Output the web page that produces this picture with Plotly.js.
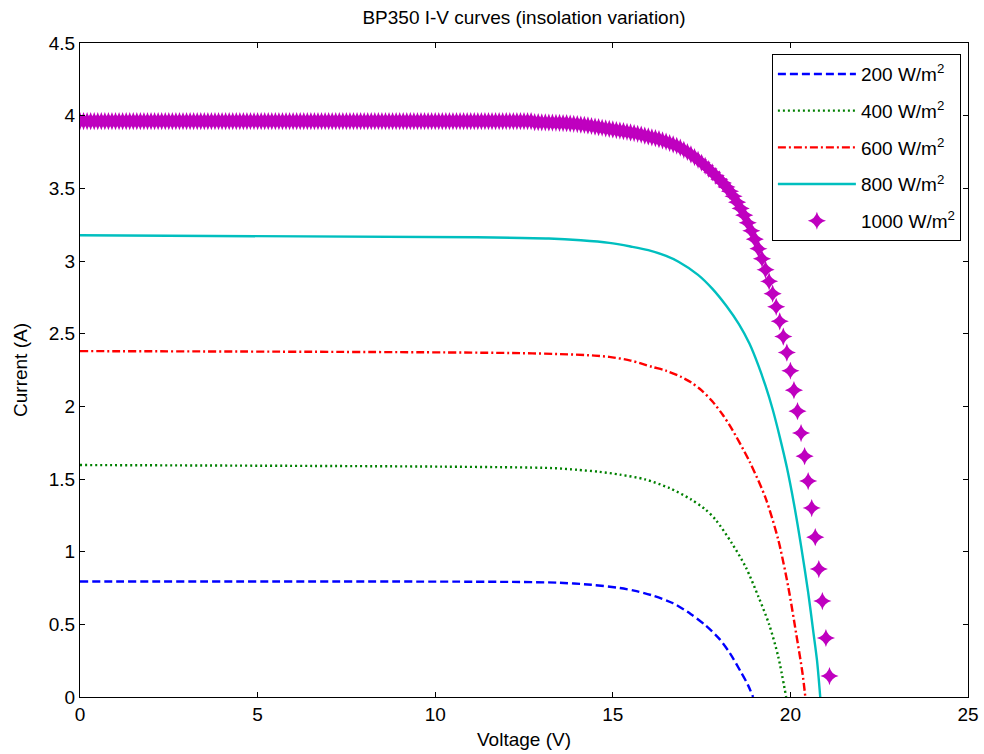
<!DOCTYPE html>
<html>
<head>
<meta charset="utf-8">
<script src="https://cdn.plot.ly/plotly-3.0.1.min.js"></script>
<style>html,body{margin:0;padding:0;background:#fff;}#chart{width:984px;height:754px;}</style>
</head>
<body>
<div id="chart"></div>
<script>
// Series names
const seriesNames = ["200 W/m<sup>2</sup>", "400 W/m<sup>2</sup>", "600 W/m<sup>2</sup>", "800 W/m<sup>2</sup>", "1000 W/m<sup>2</sup>"];

// 200 W/m2
const v200 = [0, 12.1, 13.5, 14.4, 15.2, 15.6, 16.1, 16.7, 17.2, 17.6, 18.0, 18.3, 18.6, 18.8, 18.95];
const i200 = [0.795, 0.792, 0.786, 0.772, 0.750, 0.732, 0.700, 0.645, 0.570, 0.495, 0.400, 0.300, 0.175, 0.085, 0];

// 400 W/m2
const v400 = [0, 10.2, 13.3, 14.0, 14.6, 15.2, 15.9, 16.6, 17.2, 17.6, 17.9, 18.35, 18.75, 19.1, 19.4, 19.66, 19.88];
const i400 = [1.596, 1.585, 1.575, 1.563, 1.550, 1.530, 1.498, 1.437, 1.360, 1.292, 1.218, 1.059, 0.890, 0.690, 0.500, 0.275, 0];

// 600 W/m2
const v600 = [0, 12.4, 14.3, 14.9, 15.5, 16.1, 16.5, 16.9, 17.2, 17.5, 17.8, 18.1, 18.35, 18.85, 19.3, 19.66, 19.94, 20.16, 20.34, 20.42];
const i600 = [2.380, 2.366, 2.352, 2.340, 2.315, 2.272, 2.245, 2.205, 2.165, 2.110, 2.035, 1.940, 1.845, 1.620, 1.370, 1.080, 0.757, 0.440, 0.165, 0];

// 800 W/m2
const v800 = [0, 11.15, 13.2, 14.1, 14.9, 15.5, 16.0, 16.5, 16.85, 17.4, 17.8, 18.2, 18.55, 18.85, 19.1, 19.3, 19.5, 19.7, 19.9, 20.1, 20.3, 20.5, 20.65, 20.75, 20.84];
const i800 = [3.177, 3.163, 3.155, 3.143, 3.125, 3.100, 3.075, 3.035, 2.995, 2.905, 2.810, 2.690, 2.565, 2.430, 2.280, 2.140, 1.980, 1.790, 1.580, 1.330, 1.040, 0.720, 0.440, 0.250, 0];

// 1000 W/m2 (one marker every 0.1 V)
const v1000 = [
 0.0, 0.1, 0.2, 0.3, 0.4, 0.5, 0.6, 0.7, 0.8, 0.9,
 1.0, 1.1, 1.2, 1.3, 1.4, 1.5, 1.6, 1.7, 1.8, 1.9,
 2.0, 2.1, 2.2, 2.3, 2.4, 2.5, 2.6, 2.7, 2.8, 2.9,
 3.0, 3.1, 3.2, 3.3, 3.4, 3.5, 3.6, 3.7, 3.8, 3.9,
 4.0, 4.1, 4.2, 4.3, 4.4, 4.5, 4.6, 4.7, 4.8, 4.9,
 5.0, 5.1, 5.2, 5.3, 5.4, 5.5, 5.6, 5.7, 5.8, 5.9,
 6.0, 6.1, 6.2, 6.3, 6.4, 6.5, 6.6, 6.7, 6.8, 6.9,
 7.0, 7.1, 7.2, 7.3, 7.4, 7.5, 7.6, 7.7, 7.8, 7.9,
 8.0, 8.1, 8.2, 8.3, 8.4, 8.5, 8.6, 8.7, 8.8, 8.9,
 9.0, 9.1, 9.2, 9.3, 9.4, 9.5, 9.6, 9.7, 9.8, 9.9,
 10.0, 10.1, 10.2, 10.3, 10.4, 10.5, 10.6, 10.7, 10.8, 10.9,
 11.0, 11.1, 11.2, 11.3, 11.4, 11.5, 11.6, 11.7, 11.8, 11.9,
 12.0, 12.1, 12.2, 12.3, 12.4, 12.5, 12.6, 12.7, 12.8, 12.9,
 13.0, 13.1, 13.2, 13.3, 13.4, 13.5, 13.6, 13.7, 13.8, 13.9,
 14.0, 14.1, 14.2, 14.3, 14.4, 14.5, 14.6, 14.7, 14.8, 14.9,
 15.0, 15.1, 15.2, 15.3, 15.4, 15.5, 15.6, 15.7, 15.8, 15.9,
 16.0, 16.1, 16.2, 16.3, 16.4, 16.5, 16.6, 16.7, 16.8, 16.9,
 17.0, 17.1, 17.2, 17.3, 17.4, 17.5, 17.6, 17.7, 17.8, 17.9,
 18.0, 18.1, 18.2, 18.3, 18.4, 18.5, 18.6, 18.7, 18.8, 18.9,
 19.0, 19.1, 19.2, 19.3, 19.4, 19.5, 19.6, 19.7, 19.8, 19.9,
 20.0, 20.1, 20.2, 20.3, 20.4, 20.5, 20.6, 20.7, 20.8, 20.9,
 21.0, 21.1
];
const i1000 = [
 3.962, 3.962, 3.962, 3.962, 3.962, 3.962, 3.962, 3.962, 3.962, 3.962,
 3.962, 3.962, 3.962, 3.962, 3.962, 3.962, 3.962, 3.962, 3.962, 3.962,
 3.962, 3.962, 3.962, 3.962, 3.962, 3.962, 3.962, 3.962, 3.962, 3.962,
 3.962, 3.962, 3.962, 3.962, 3.962, 3.962, 3.962, 3.962, 3.962, 3.962,
 3.962, 3.962, 3.962, 3.962, 3.962, 3.962, 3.962, 3.962, 3.962, 3.962,
 3.962, 3.962, 3.962, 3.962, 3.962, 3.962, 3.962, 3.962, 3.962, 3.962,
 3.962, 3.962, 3.962, 3.962, 3.962, 3.962, 3.962, 3.962, 3.962, 3.962,
 3.962, 3.962, 3.962, 3.962, 3.962, 3.962, 3.962, 3.962, 3.962, 3.962,
 3.962, 3.962, 3.962, 3.962, 3.962, 3.962, 3.962, 3.962, 3.962, 3.962,
 3.962, 3.962, 3.962, 3.962, 3.962, 3.962, 3.962, 3.962, 3.962, 3.962,
 3.962, 3.962, 3.962, 3.962, 3.962, 3.962, 3.962, 3.962, 3.962, 3.962,
 3.962, 3.962, 3.962, 3.962, 3.962, 3.962, 3.962, 3.962, 3.962, 3.962,
 3.962, 3.962, 3.962, 3.962, 3.962, 3.962, 3.962, 3.962, 3.955, 3.955,
 3.954, 3.954, 3.953, 3.952, 3.951, 3.950, 3.949, 3.948, 3.946, 3.944,
 3.942, 3.939, 3.936, 3.933, 3.929, 3.925, 3.921, 3.917, 3.913, 3.909,
 3.905, 3.901, 3.897, 3.893, 3.889, 3.885, 3.880, 3.875, 3.869, 3.863,
 3.857, 3.851, 3.845, 3.838, 3.830, 3.821, 3.812, 3.803, 3.793, 3.780,
 3.765, 3.750, 3.733, 3.715, 3.696, 3.676, 3.655, 3.633, 3.610, 3.586,
 3.562, 3.537, 3.510, 3.480, 3.445, 3.405, 3.362, 3.315, 3.263, 3.208,
 3.150, 3.085, 3.015, 2.940, 2.860, 2.775, 2.685, 2.585, 2.480, 2.370,
 2.245, 2.111, 1.967, 1.816, 1.657, 1.486, 1.300, 1.100, 0.880, 0.660,
 0.406, 0.144
];

// Axis ticks
const xTicks = [0, 5, 10, 15, 20, 25];
const yTicks = [0, 0.5, 1, 1.5, 2, 2.5, 3, 3.5, 4, 4.5];

const FONT = '"Liberation Sans", Arial, Helvetica, sans-serif';
const FS = 19;

const traces = [
  {x: v200, y: i200, name: seriesNames[0], mode: 'lines', legendgroup: 'a',
   line: {color: '#0000FF', width: 2.4, dash: '8px,4px', shape: 'spline', smoothing: 0.8}},
  {x: v400, y: i400, name: seriesNames[1], mode: 'lines', legendgroup: 'b',
   line: {color: '#008000', width: 2.4, dash: '2px,3px', shape: 'spline', smoothing: 0.8}},
  {x: v600, y: i600, name: seriesNames[2], mode: 'lines', legendgroup: 'c',
   line: {color: '#FF0000', width: 2.4, dash: '8px,3px,2px,3px', shape: 'spline', smoothing: 0.8}},
  {x: v800, y: i800, name: seriesNames[3], mode: 'lines', legendgroup: 'd',
   line: {color: '#00BFBF', width: 2.4, shape: 'spline', smoothing: 0.8}},
  {x: v1000, y: i1000, name: seriesNames[4], mode: 'markers', legendgroup: 'e',
   marker: {color: '#BF00BF', size: 13, symbol: 'star-diamond', line: {width: 0}}}
];

const axisCommon = {
  showgrid: false, zeroline: false, showline: true, linecolor: '#000', linewidth: 1,
  mirror: 'ticks', ticks: 'inside', ticklen: 5, tickcolor: '#000', tickwidth: 1,
  tickfont: {family: FONT, size: FS, color: '#000'}, automargin: false
};

const layout = {
  width: 984, height: 754,
  margin: {l: 80, r: 16, t: 43, b: 57},
  paper_bgcolor: '#fff', plot_bgcolor: '#fff',
  font: {family: FONT, size: FS, color: '#000'},
  title: {text: 'BP350 I-V curves (insolation variation)', font: {family: FONT, size: FS, color: '#000'},
          x: 0.5, xref: 'paper', xanchor: 'center', y: 1 - 17/754, yref: 'container', yanchor: 'middle'},
  xaxis: Object.assign({}, axisCommon, {range: [0, 25], tickvals: xTicks, ticktext: xTicks.map(String),
          title: {text: 'Voltage (V)', font: {family: FONT, size: FS, color: '#000'}, standoff: 8}}),
  yaxis: Object.assign({}, axisCommon, {range: [0, 4.5], tickvals: yTicks, ticktext: yTicks.map(String),
          title: {text: 'Current (A)', font: {family: FONT, size: FS, color: '#000'}, standoff: 16}}),
  showlegend: true,
  legend: {x: 0.992, y: 0.983, xanchor: 'right', yanchor: 'top', bgcolor: '#fff',
           bordercolor: '#000', borderwidth: 1, font: {family: FONT, size: FS, color: '#000'},
           traceorder: 'grouped', tracegroupgap: 9, itemwidth: 78}
};

Plotly.newPlot('chart', traces, layout, {displayModeBar: false, staticPlot: true});
</script>
</body>
</html>
